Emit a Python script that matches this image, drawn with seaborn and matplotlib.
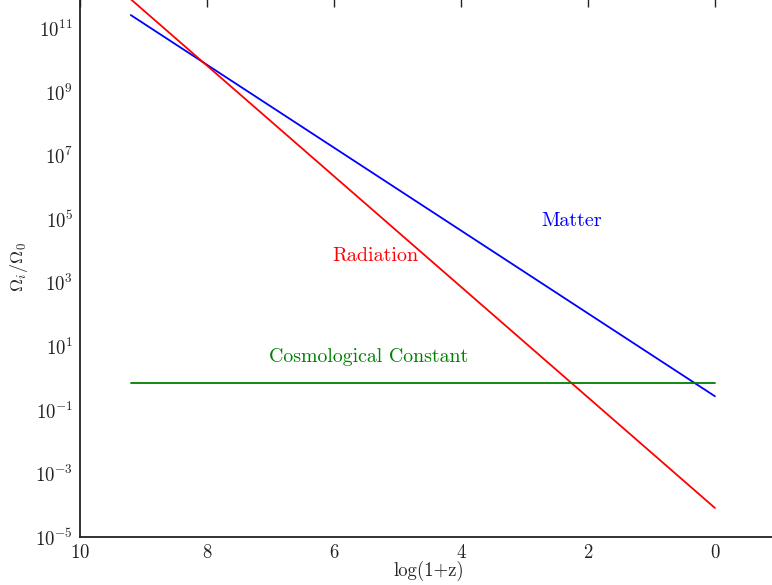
import numpy as np
import pandas as pd
import seaborn as sns
import matplotlib.pyplot as plt
from matplotlib.ticker import FixedLocator, NullLocator

# ---- data (line end points, x = log(1+z)) ----
x_ends = [9.2, 0.0]
matter = [2.7e11, 0.27]
radiation = [8.5e11, 8.2e-5]
cosmo_const = [0.73, 0.73]

components = ["Matter", "Radiation", "Cosmological Constant"]
colors = {"Matter": "blue", "Radiation": "red", "Cosmological Constant": "green"}

df = pd.DataFrame({
    "x": x_ends * 3,
    "omega": matter + radiation + cosmo_const,
    "component": [c for c in components for _ in x_ends],
})

# ---- style ----
sns.set_style("white")
plt.rcParams["font.family"] = "serif"
plt.rcParams["font.serif"] = ["cmr10", "DejaVu Serif"]
plt.rcParams["mathtext.fontset"] = "cm"
plt.rcParams["axes.formatter.use_mathtext"] = True
plt.rcParams["axes.unicode_minus"] = False

fig = plt.figure(figsize=(7.72, 5.85), dpi=100)
# axes runs past the right/top edge of the picture (cropped figure)
ax = fig.add_axes([80 / 772, 1 - 537 / 585, 720 / 772, 540 / 585])

sns.lineplot(data=df, x="x", y="omega", hue="component", palette=colors,
             linewidth=1.3, legend=False, ax=ax)

ax.set_yscale("log")
ax.set_xlim(10, -1.34)
ax.set_ylim(1e-5, 1e12)

ax.yaxis.set_major_locator(FixedLocator([10.0 ** k for k in range(-5, 12, 2)]))
ax.yaxis.set_minor_locator(NullLocator())
ax.set_xticks([10, 8, 6, 4, 2, 0])

for s in ax.spines.values():
    s.set_color("#222222")
    s.set_linewidth(1.3)
ax.tick_params(direction="in", length=7, width=1, color="#222222",
               top=True, right=True, labelsize=13.5, pad=5, labelcolor="#222222")

ax.set_xlabel("log(1+z)", fontsize=13.5)
ax.xaxis.set_label_coords(0.485, -0.045)
ax.set_ylabel(r"$\Omega_i/\Omega_0$", fontsize=13, labelpad=4)

ax.text(2.25, 9e4, "Matter", color="blue", fontsize=14.5, ha="center", va="center")
ax.text(5.35, 7e3, "Radiation", color="red", fontsize=14.5, ha="center", va="center")
ax.text(5.46, 4.8, "Cosmological Constant", color="green", fontsize=14.3,
        ha="center", va="center")

fig.savefig("out.png", dpi=100)
